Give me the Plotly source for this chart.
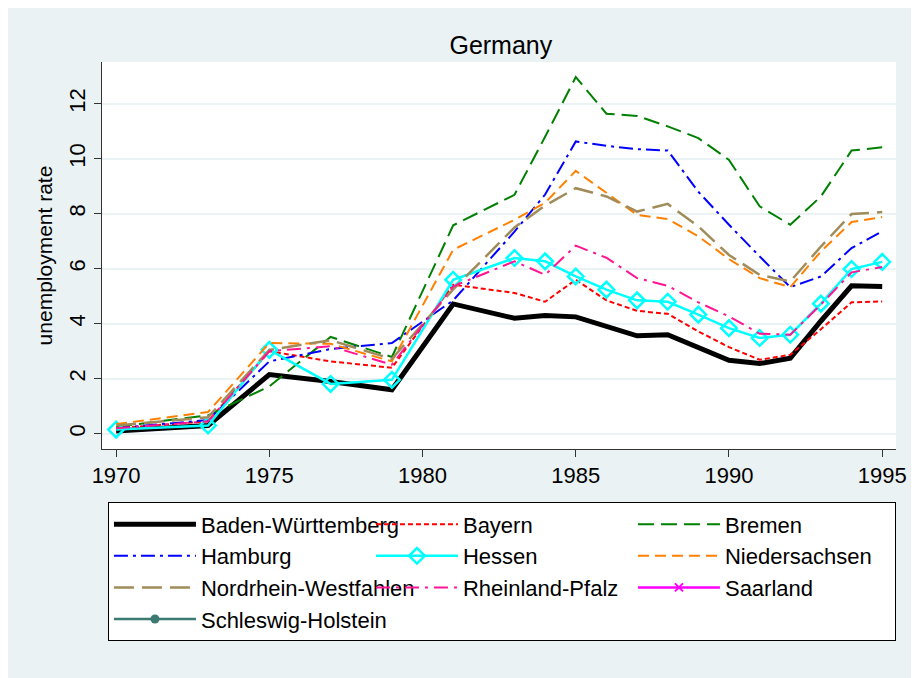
import plotly.graph_objects as go

years = [1970, 1973, 1975, 1977, 1979, 1981, 1983, 1984, 1985, 1986, 1987,
         1988, 1989, 1990, 1991, 1992, 1993, 1994, 1995]

baden_wuerttemberg = [0.1, 0.3, 2.15, 1.9, 1.6, 4.72, 4.2, 4.3, 4.25, 3.9, 3.56,
                      3.6, 3.13, 2.67, 2.55, 2.75, 4.1, 5.38, 5.35]
bayern = [0.2, 0.45, 3.0, 2.63, 2.4, 5.42, 5.12, 4.8, 5.6, 4.85, 4.47,
          4.36, 3.72, 3.15, 2.69, 2.87, 3.8, 4.78, 4.81]
bremen = [0.25, 0.67, 1.72, 3.52, 2.79, 7.58, 8.69, 10.8, 12.97, 11.64, 11.56,
          11.18, 10.75, 9.96, 8.27, 7.6, 8.63, 10.3, 10.42]
hamburg = [0.2, 0.5, 2.63, 3.08, 3.3, 4.85, 7.35, 8.7, 10.63, 10.47, 10.35,
           10.3, 8.8, 7.6, 6.45, 5.33, 5.72, 6.75, 7.36]
hessen = [0.15, 0.3, 3.05, 1.81, 1.96, 5.6, 6.39, 6.27, 5.72, 5.24, 4.85,
          4.8, 4.33, 3.84, 3.48, 3.6, 4.73, 5.99, 6.25]
niedersachsen = [0.35, 0.79, 3.3, 3.27, 2.63, 6.69, 7.78, 8.4, 9.56, 8.75, 7.96,
                 7.81, 7.18, 6.35, 5.66, 5.33, 6.63, 7.7, 7.88]
nordrhein_westfahlen = [0.3, 0.6, 3.05, 3.4, 2.72, 5.25, 7.5, 8.3, 8.93, 8.63, 8.08,
                        8.36, 7.54, 6.5, 5.78, 5.54, 6.81, 7.99, 8.06]
rheinland_pfalz = [0.2, 0.45, 3.0, 3.18, 2.51, 5.36, 6.27, 5.78, 6.84, 6.4, 5.66,
                   5.38, 4.78, 4.27, 3.64, 3.6, 4.7, 5.87, 6.06]
# no observations drawn for these two states
saarland = [None] * len(years)
schleswig_holstein = [None] * len(years)

bg = "#eaf2f3"
font = "Liberation Sans, Arial, sans-serif"

series = [
    ("Baden-Württemberg", baden_wuerttemberg, dict(color="black", width=5), None),
    ("Bayern", bayern, dict(color="#ff0000", width=2, dash="5px,3px"), None),
    ("Bremen", bremen, dict(color="#008000", width=2, dash="16px,7px"), None),
    ("Hamburg", hamburg, dict(color="#0000ff", width=2, dash="14px,5px,3px,5px"), None),
    ("Hessen", hessen, dict(color="#00ffff", width=2.5),
     dict(symbol="diamond-open", size=12, color="#00ffff", line=dict(width=2.5))),
    ("Niedersachsen", niedersachsen, dict(color="#ff8000", width=2, dash="11px,6px"), None),
    ("Nordrhein-Westfahlen", nordrhein_westfahlen, dict(color="#a08c5a", width=2.5, dash="20px,8px"), None),
    ("Rheinland-Pfalz", rheinland_pfalz, dict(color="#ff1493", width=2, dash="14px,6px,3px,6px"), None),
    ("Saarland", saarland, dict(color="#ff00ff", width=2.5),
     dict(symbol="x-thin-open", size=8, color="#ff00ff", line=dict(width=2, color="#ff00ff"))),
    ("Schleswig-Holstein", schleswig_holstein, dict(color="#3a7a70", width=2.5),
     dict(symbol="circle", size=9, color="#3a7a70")),
]

fig = go.Figure()
for name, vals, line, marker in series:
    fig.add_trace(go.Scatter(
        x=years, y=vals, name=name,
        mode="lines+markers" if marker else "lines",
        line=line, marker=marker))

fig.update_layout(
    width=911, height=670,
    paper_bgcolor=bg, plot_bgcolor="white",
    margin=dict(l=94, r=19, t=54, b=229),
    font=dict(family=font, size=22, color="black"),
    title=dict(text="Germany", x=0.541, xanchor="center", y=0.945, yanchor="middle",
               font=dict(size=25)),
    showlegend=True,
    legend=dict(
        orientation="h", x=0.0075, xanchor="left", y=-0.138, yanchor="top",
        bgcolor="white", bordercolor="black", borderwidth=1,
        entrywidth=165, itemwidth=82, tracegroupgap=0,
        font=dict(size=22), traceorder="normal",
    ),
    xaxis=dict(
        range=[1969.54, 1995.45], tickvals=[1970, 1975, 1980, 1985, 1990, 1995],
        showgrid=False, zeroline=False, showline=True, linecolor="#333333", linewidth=1,
        ticks="outside", ticklen=7, tickcolor="#333333",
    ),
    yaxis=dict(
        range=[-0.556, 13.52], tickvals=[0, 2, 4, 6, 8, 10, 12], tickangle=-90,
        showgrid=True, gridcolor=bg, gridwidth=2, zeroline=False,
        showline=True, linecolor="#333333", linewidth=1,
        ticks="outside", ticklen=7, tickcolor="#333333",
        title=dict(text="unemployment rate", standoff=6, font=dict(size=21)),
    ),
)

fig.write_html("out.html")
